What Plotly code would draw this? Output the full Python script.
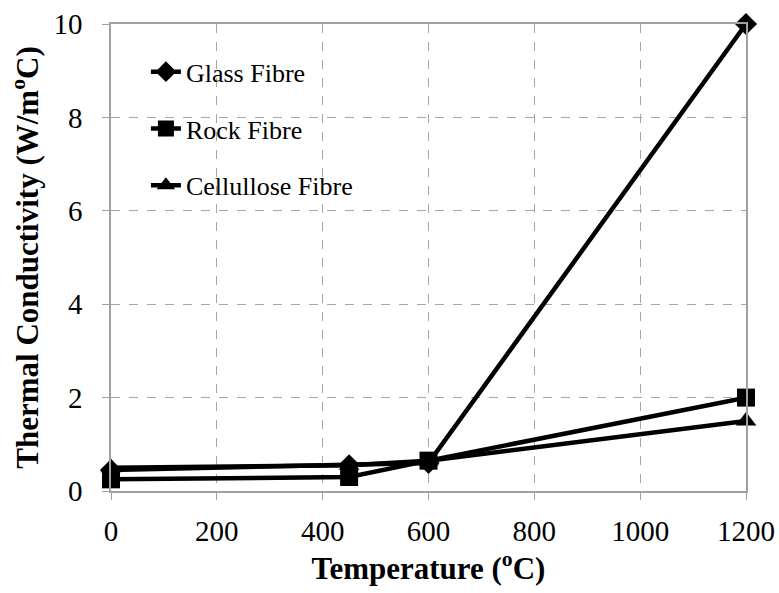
import plotly.graph_objects as go

# Temperature (°C) and thermal conductivity (W/m°C) for each insulation type
temperature = [0, 450, 600, 1200]
glass_fibre = [0.45, 0.55, 0.6, 10.0]
rock_fibre = [0.25, 0.3, 0.65, 2.0]
cellulose_fibre = [0.5, 0.55, 0.65, 1.5]

x_ticks = [0, 200, 400, 600, 800, 1000, 1200]
y_ticks = [0, 2, 4, 6, 8, 10]

FONT = "Liberation Serif"

series = [
    ("Glass Fibre", glass_fibre, "diamond", 17),
    ("Rock Fibre", rock_fibre, "square", 18),
    ("Cellullose Fibre", cellulose_fibre, "triangle-up", 18),
]

fig = go.Figure()
for name, values, symbol, size in series:
    fig.add_trace(go.Scatter(
        x=temperature, y=values, name=name, mode="lines+markers",
        legendgroup=name, cliponaxis=False,
        line=dict(color="black", width=4.5),
        marker=dict(symbol=symbol, size=size, color="black"),
    ))

axis_common = dict(
    showline=True, linecolor="#a0a0a0", linewidth=1.5, mirror=True,
    showgrid=True, gridcolor="#a6a6a6", griddash="dash", gridwidth=1.2,
    ticks="outside", ticklen=7, tickcolor="#a0a0a0",
    zeroline=False, automargin=False,
    tickfont=dict(family=FONT, size=29, color="black"),
)

fig.update_layout(
    width=779, height=593,
    margin=dict(l=111, r=33, t=24, b=102),
    paper_bgcolor="white", plot_bgcolor="white",
    font=dict(family=FONT, size=26, color="black"),
    xaxis=dict(
        range=[0, 1200], tickvals=x_ticks, ticklabelstandoff=6,
        title=dict(text="<b>Temperature (<sup>o</sup>C)</b>",
                   font=dict(family=FONT, size=31), standoff=8),
        **axis_common,
    ),
    yaxis=dict(
        range=[0, 10], tickvals=y_ticks, ticklabelstandoff=14,
        title=dict(text="<b>Thermal Conductivity (W/m<sup>o</sup>C)</b>",
                   font=dict(family=FONT, size=31), standoff=6),
        **axis_common,
    ),
    legend=dict(
        x=0.055, y=0.948, xanchor="left", yanchor="top",
        bgcolor="rgba(0,0,0,0)",
        font=dict(family=FONT, size=26, color="black"),
        tracegroupgap=20,
    ),
)

fig.write_html("out.html")
